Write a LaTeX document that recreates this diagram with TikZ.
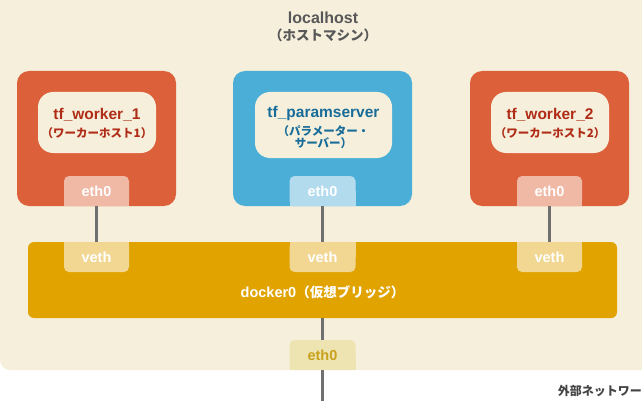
\documentclass[tikz,border=0pt]{standalone}
\usepackage{fontspec}
\setmainfont{Liberation Sans}
\newfontfamily\jp{Noto Sans CJK JP}
\newcommand\myfs[1]{\fontsize{#1}{#1}\selectfont}
\definecolor{bg}{HTML}{F5EFDC}
\definecolor{wred}{HTML}{DC603A}
\definecolor{wtext}{HTML}{B02C16}
\definecolor{pblue}{HTML}{4BAED7}
\definecolor{ptext}{HTML}{176C99}
\definecolor{tabr}{HTML}{EFB9A6}
\definecolor{tabb}{HTML}{B2DBEE}
\definecolor{dock}{HTML}{E0A300}
\definecolor{vtab}{HTML}{F1D791}
\definecolor{etab}{HTML}{EEE4B1}
\definecolor{etext}{HTML}{C9A11C}
\definecolor{wire}{HTML}{707070}
\definecolor{gtext}{HTML}{585858}
\definecolor{dtext}{HTML}{444444}
\tikzset{
  hostbox/.style={rectangle, rounded corners=12pt, minimum width=159pt, minimum height=135pt, inner sep=0pt},
  labelbox/.style={rectangle, rounded corners=15pt, fill=bg, minimum width=118pt, minimum height=61pt, inner sep=0pt},
  titletext/.style={inner sep=0pt, font=\bfseries\myfs{15.5}},
  subtext/.style={inner sep=0pt, font=\jp\bfseries\myfs{11.5}},
  tabbox/.style={rectangle, rounded corners=5pt, minimum width=65pt, minimum height=30pt, inner sep=0pt, font=\bfseries\myfs{14.5}, text=white},
  wireline/.style={draw=wire, line width=2.6pt},
}
\begin{document}
\begin{tikzpicture}[x=1pt,y=-1pt]
\useasboundingbox (0,0) rectangle (642,401);
\begin{scope}
\clip (0,0) rectangle (642,401);
\fill[bg, rounded corners=10pt] (0,-30) rectangle (680,370);
\end{scope}
% title
\node[font=\bfseries\myfs{16}, text=gtext] (lh) at (323,18) {localhost};
\node[font=\jp\bfseries\myfs{13.5}, text=gtext] (lhj) at (323,35) {（ホストマシン）};
% hosts
\node[hostbox, fill=wred] (w1) at (96.5,138.5) {};
\node[hostbox, fill=pblue, minimum width=179pt] (ps) at (322.5,138.5) {};
\node[hostbox, fill=wred] (w2) at (549.5,138.5) {};
\node[labelbox] (l1) at (97,122.5) {};
\node[labelbox, minimum width=137pt, minimum height=66pt] (lp) at (323.5,125) {};
\node[labelbox] (l2) at (550,122.5) {};
\node[titletext, text=wtext] (t1) at (97,115) {tf\_worker\_1};
\node[subtext, text=wtext] (s1) at (97,133) {（ワーカーホスト1）};
\node[titletext, text=ptext] (tp) at (323.5,113.5) {tf\_paramserver};
\node[subtext, text=ptext] (sp1) at (323.5,131) {（パラメーター・};
\node[subtext, text=ptext] (sp2) at (323.5,143.5) {サーバー）};
\node[titletext, text=wtext] (t2) at (550,115) {tf\_worker\_2};
\node[subtext, text=wtext] (s2) at (550,133) {（ワーカーホスト2）};
% eth0 tabs on hosts
\fill[tabr] (64,191) rectangle (129,206);
\node[tabbox, fill=tabr] (e1) at (96.5,191) {eth0};
\fill[tabb] (289.5,191) rectangle (355.5,206);
\node[tabbox, fill=tabb, minimum width=66pt] (ep) at (322.5,191) {eth0};
\fill[tabr] (517,191) rectangle (582,206);
\node[tabbox, fill=tabr] (e2) at (549.5,191) {eth0};
% docker bridge
\node[rectangle, rounded corners=6pt, fill=dock, minimum width=589pt, minimum height=76pt, inner sep=0pt] (dk) at (322.5,280) {};
\node[font=\bfseries, text=white] (dkl) at (322.5,292) {\myfs{14.5}docker0\jp\myfs{13.5}（仮想ブリッジ）};
\fill[vtab] (64,242) rectangle (129,257);
\node[tabbox, fill=vtab] (v1) at (96.5,257) {veth};
\fill[vtab] (289.5,242) rectangle (355.5,257);
\node[tabbox, fill=vtab, minimum width=66pt] (v2) at (322.5,257) {veth};
\fill[vtab] (517,242) rectangle (582,257);
\node[tabbox, fill=vtab] (v3) at (549.5,257) {veth};
% host eth0
\fill[etab] (289.5,355) rectangle (355.5,370);
\node[tabbox, fill=etab, minimum width=66pt, text=etext] (eb) at (322.5,355) {eth0};
\coordinate (ext) at (322.5,401);
% wires
\draw[wireline] (e1.south) -- (v1.north);
\draw[wireline] (ep.south) -- (v2.north);
\draw[wireline] (e2.south) -- (v3.north);
\draw[wireline] (dk.south) -- (eb.north);
\draw[wireline] (eb.south) -- (ext);
% external network label
\node[anchor=east, inner sep=0pt, font=\jp\bfseries\myfs{12}, text=dtext] (net) at (642,391) {外部ネットワー};
\end{tikzpicture}
\end{document}
